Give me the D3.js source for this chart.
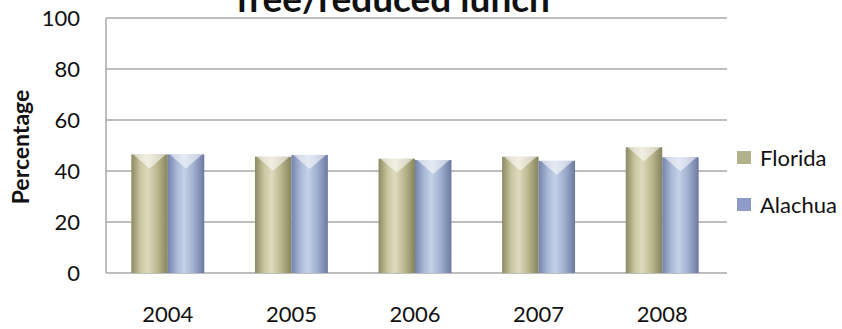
<!DOCTYPE html>
<html><head><meta charset="utf-8">
<script src="https://cdn.jsdelivr.net/npm/d3@7/dist/d3.min.js"></script>
<style>body{margin:0;background:#fff}svg{display:block}text{font-family:Lato,"Open Sans",sans-serif}</style>
</head><body><svg id="c" width="842" height="329"></svg>
<script>
const years = ["2004","2005","2006","2007","2008"];
const seriesNames = ["Florida","Alachua"];
const florida = [46.5,45.6,44.8,45.6,49.3];
const alachua = [46.5,46.3,44.3,44.0,45.4];
const yTicks = [0,20,40,60,80,100];
const titleText = "free/reduced lunch";
const yLabel = "Percentage";

const svg = d3.select("#c");
const m = {l:106, r:724, t:18, b:273};
const gridRight = 727;
const x0 = d3.scaleBand().domain(years).range([m.l,m.r]).paddingInner(0.41).paddingOuter(0.205);
const x1 = d3.scaleBand().domain(seriesNames).range([0,x0.bandwidth()]);
const y = d3.scaleLinear().domain([0,100]).range([m.b,m.t]);

const defs = svg.append("defs");
function grad(id, stops){
  const g = defs.append("linearGradient").attr("id",id).attr("x1","0").attr("x2","1").attr("y1","0").attr("y2","0");
  stops.forEach(s=>g.append("stop").attr("offset",s[0]).attr("stop-color",s[1]));
}
grad("gF",[[0,"#8c8a62"],[0.25,"#c9c6a0"],[0.45,"#dedbbe"],[0.7,"#bdb991"],[1,"#86845c"]]);
grad("gA",[[0,"#7583ac"],[0.25,"#a9b8d6"],[0.45,"#c4d2e8"],[0.7,"#a1b0d0"],[1,"#6c79a2"]]);
const fills = {Florida:"url(#gF)", Alachua:"url(#gA)"};
const legendFills = {Florida:"#b3b08c", Alachua:"#8d9cc6"};

// gridlines
svg.append("g").selectAll("line").data(yTicks).join("line")
  .attr("x1",m.l).attr("x2",gridRight).attr("y1",d=>y(d)).attr("y2",d=>y(d))
  .attr("stroke","#a8a8a8").attr("stroke-width",1.5);
// y axis line
svg.append("line").attr("x1",m.l).attr("x2",m.l).attr("y1",m.t).attr("y2",m.b).attr("stroke","#a8a8a8").attr("stroke-width",1.5);

// y tick labels
const yAxis = d3.axisLeft(y).tickValues(yTicks).tickSize(0).tickPadding(26);
const ya = svg.append("g").attr("transform",`translate(${m.l},0)`).call(yAxis);
ya.select(".domain").remove();
ya.selectAll("text").attr("font-size",22).attr("fill","#111").attr("font-family","Lato,'Open Sans',sans-serif");

// x labels
const xAxis = d3.axisBottom(x0).tickSize(0).tickPadding(33);
const xa = svg.append("g").attr("transform",`translate(0,${m.b})`).call(xAxis);
xa.select(".domain").remove();
xa.selectAll("text").attr("font-size",22).attr("fill","#111").attr("font-family","Lato,'Open Sans',sans-serif");

// bars
const data = years.map((yr,i)=>({yr, vals:[{s:"Florida",v:florida[i]},{s:"Alachua",v:alachua[i]}]}));
const g = svg.append("g").selectAll("g").data(data).join("g").attr("transform",d=>`translate(${x0(d.yr)},0)`);
g.selectAll("rect").data(d=>d.vals).join("rect")
  .attr("x",d=>x1(d.s)).attr("width",x1.bandwidth())
  .attr("y",d=>y(d.v)).attr("height",d=>y(0)-y(d.v))
  .attr("fill",d=>fills[d.s]);
// top highlight chevrons
g.selectAll("path").data(d=>d.vals).join("path")
  .attr("d",d=>{const bx=x1(d.s), w=x1.bandwidth(), ty=y(d.v);
    return `M${bx+2},${ty} L${bx+w-2},${ty} L${bx+w*0.5},${ty+14} Z`;})
  .attr("fill","#fff").attr("opacity",0.55);

// title
svg.append("text").attr("x",393).attr("y",12).attr("text-anchor","middle")
  .attr("font-size",37).attr("font-weight","bold").attr("fill","#111").text(titleText);
// y label
svg.append("text").attr("transform","translate(29,147) rotate(-90)").attr("text-anchor","middle")
  .attr("font-size",23).attr("font-weight","bold").attr("fill","#111").text(yLabel);

// legend
const lg = svg.append("g").selectAll("g").data(seriesNames).join("g")
  .attr("transform",(d,i)=>`translate(737,${151+i*47})`);
lg.append("rect").attr("width",14).attr("height",13).attr("y",0).attr("fill",d=>legendFills[d]);
lg.append("text").attr("x",23).attr("y",14.5).attr("font-size",22).attr("fill","#111").text(d=>d);
</script></body></html>
